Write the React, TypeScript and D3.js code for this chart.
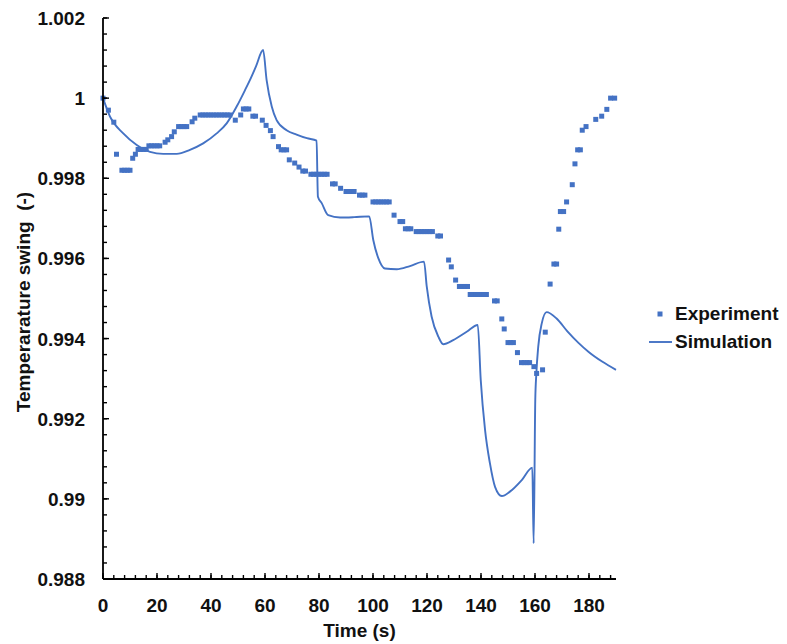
import React from "react";
import * as d3 from "d3";

// Measured temperature swing (time in s, normalised value)
const expTime = [
  0, 2, 4, 5, 7, 8, 9, 10, 11, 12, 13, 14, 15, 16, 17, 18, 19, 20, 21, 23, 24, 25.4, 26.4,
  28, 29, 30, 31, 33, 34, 36, 37, 38, 39, 40, 41, 42, 43, 44, 45, 46, 47, 49, 51, 52, 53, 54,
  55.5, 56.5, 59, 60.4, 62, 63, 65, 66, 67, 68, 69, 71, 72.6, 74, 75, 77, 78, 79, 80, 81, 82, 83,
  85, 86, 88, 90, 91, 92, 93, 95, 96, 97, 100, 101, 102, 103, 104, 105, 106, 107.8, 110, 111,
  112, 113, 114, 116, 117, 118, 119, 120, 121, 122, 124, 125, 128, 129, 130.6, 132, 133, 134,
  135, 136, 137, 138, 139, 140, 141, 142, 145, 146, 147.7, 148.6, 150, 151, 152, 153.5, 155,
  156, 157, 158, 159.6, 160.6, 162.8, 163.8, 165.6, 167, 168, 168.8, 169.4, 170.6, 171.7,
  173.8, 174.8, 175.8, 176.8, 177.5, 178.9, 182.5, 184.7, 186.6, 188, 189.5,
];
const expValue = [
  1.0, 0.9997, 0.9994, 0.9986, 0.9982, 0.9982, 0.9982, 0.9982, 0.9985, 0.9986, 0.99872, 0.99872,
  0.99872, 0.99872, 0.99881, 0.99881, 0.99881, 0.99881, 0.99881, 0.9989, 0.99896, 0.99904,
  0.99916, 0.99929, 0.99929, 0.99929, 0.99929, 0.99941, 0.9995, 0.99958, 0.99958, 0.99958,
  0.99958, 0.99958, 0.99958, 0.99958, 0.99958, 0.99958, 0.99958, 0.99958, 0.99958, 0.99945,
  0.99958, 0.99973, 0.99973, 0.99973, 0.99955, 0.99955, 0.99945, 0.99932, 0.99919, 0.99904,
  0.99879, 0.99871, 0.99871, 0.99871, 0.99846, 0.99838, 0.99828, 0.99818, 0.99818, 0.9981,
  0.9981, 0.9981, 0.9981, 0.9981, 0.9981, 0.9981, 0.99786, 0.99786, 0.99775, 0.99767, 0.99767,
  0.99767, 0.99767, 0.99758, 0.99758, 0.99758, 0.99741, 0.99741, 0.99741, 0.99741, 0.99741,
  0.99741, 0.99741, 0.99708, 0.99692, 0.99692, 0.99674, 0.99674, 0.99674, 0.99667, 0.99667,
  0.99667, 0.99667, 0.99667, 0.99667, 0.99667, 0.99656, 0.99656, 0.99596, 0.99579, 0.99546,
  0.9953, 0.9953, 0.9953, 0.9953, 0.9951, 0.9951, 0.9951, 0.9951, 0.9951, 0.9951, 0.9951,
  0.99494, 0.99494, 0.99449, 0.99424, 0.9939, 0.9939, 0.9939, 0.99365, 0.9934, 0.9934, 0.9934,
  0.9934, 0.9933, 0.99313, 0.99322, 0.99416, 0.99536, 0.99586, 0.99586, 0.99673, 0.99717,
  0.99717, 0.99741, 0.99784, 0.99836, 0.99871, 0.99871, 0.9992, 0.99929, 0.99947, 0.99955,
  0.99972, 1.0, 1.0,
];

// Simulated temperature swing
const simTime = [
  0, 2.6, 7.5, 12.5, 17.4, 22.3, 27.3, 32.2, 37.1, 42.1, 45.8, 49.5, 52.6, 54.4, 56.7, 59.3,
  60.6, 62.5, 64.3, 68, 71.7, 75.5, 79.1, 79.6, 81, 83.4, 87.8, 93, 98.6, 100.1, 102, 104.4,
  108.8, 113.7, 118.9, 119.9, 121.7, 124.2, 126, 129.7, 134.7, 138.8, 139.9, 141.5, 143.3,
  145.2, 147.7, 150.7, 155.1, 159.0, 159.5, 160.1, 160.5, 161.2, 162.5, 164.3, 168, 172,
  176, 180, 185, 190,
];
const simValue = [
  1.0, 0.99954, 0.99912, 0.99883, 0.99866, 0.99861, 0.99861, 0.99871, 0.99887, 0.99912,
  0.99937, 0.99979, 1.0002, 1.00045, 1.0008, 1.0012, 1.00045, 0.99979, 0.99945, 0.9992,
  0.99909, 0.999, 0.99894, 0.99754, 0.99738, 0.99708, 0.99702, 0.99703, 0.99705, 0.99646,
  0.996, 0.99575, 0.99573, 0.99581, 0.99592, 0.9953, 0.99455, 0.99405, 0.99386, 0.99396,
  0.99417, 0.99434, 0.99297, 0.99172, 0.99089, 0.9903, 0.99007, 0.99018, 0.99047, 0.99078,
  0.98889, 0.99247, 0.99313, 0.9938, 0.99438, 0.99466, 0.9945, 0.99418, 0.9939, 0.99366,
  0.99342, 0.99322,
];

const xTickValues = [0, 20, 40, 60, 80, 100, 120, 140, 160, 180];
const xTickLabels = ["0", "20", "40", "60", "80", "100", "120", "140", "160", "180"];
const yTickValues = [0.988, 0.99, 0.992, 0.994, 0.996, 0.998, 1.0, 1.002];
const yTickLabels = ["0.988", "0.99", "0.992", "0.994", "0.996", "0.998", "1", "1.002"];

const seriesNames = ["Experiment", "Simulation"];

const BLUE = "#4472C4";
const FONT = "'Liberation Sans', Arial, sans-serif";

export default function App() {
  const width = 787;
  const height = 644;
  const left = 103;
  const right = 616;
  const top = 18;
  const bottom = 579;

  const x = d3.scaleLinear().domain([0, 190]).range([left, right]);
  const y = d3.scaleLinear().domain([0.988, 1.002]).range([bottom, top]);

  const simPts: [number, number][] = simTime.map((t, i) => [t, simValue[i]]);
  const line = d3
    .line<[number, number]>()
    .x((d) => x(d[0]))
    .y((d) => y(d[1]))
    .curve(d3.curveMonotoneX);

  const xMinor = d3.range(0, 190.01, 4);
  const yMinor = d3.range(0, 36).map((i) => 0.988 + i * 0.0004);

  const ms = 5;

  return (
    <svg
      width={width}
      height={height}
      style={{ position: "absolute", left: 0, top: 0, background: "#fff" }}
      fontFamily={FONT}
    >
      {/* simulation curve */}
      <path d={line(simPts) || ""} fill="none" stroke={BLUE} strokeWidth={1.9} strokeLinejoin="round" />

      {/* experiment markers */}
      {expTime.map((t, i) => (
        <rect
          key={i}
          x={x(t) - ms / 2}
          y={y(expValue[i]) - ms / 2}
          width={ms}
          height={ms}
          fill={BLUE}
        />
      ))}

      {/* axes */}
      <line x1={left} x2={left} y1={top} y2={bottom} stroke="#000" strokeWidth={1.8} />
      <line x1={left} x2={right} y1={bottom} y2={bottom} stroke="#000" strokeWidth={1.8} />

      {xMinor.map((t) => (
        <line key={"xm" + t} x1={x(t)} x2={x(t)} y1={bottom} y2={bottom - 4} stroke="#000" strokeWidth={1.4} />
      ))}
      {xTickValues.map((t) => (
        <line key={"xM" + t} x1={x(t)} x2={x(t)} y1={bottom} y2={bottom - 6} stroke="#000" strokeWidth={1.4} />
      ))}
      {yMinor.map((v, i) => (
        <line key={"ym" + i} x1={left} x2={left + 4} y1={y(v)} y2={y(v)} stroke="#000" strokeWidth={1.4} />
      ))}
      {yTickValues.map((v) => (
        <line key={"yM" + v} x1={left} x2={left + 6} y1={y(v)} y2={y(v)} stroke="#000" strokeWidth={1.4} />
      ))}

      {xTickValues.map((t, i) => (
        <text key={"xl" + t} x={x(t)} y={612} textAnchor="middle" fontSize={19} fontWeight="bold" fill="#111">
          {xTickLabels[i]}
        </text>
      ))}
      {yTickValues.map((v, i) => (
        <text key={"yl" + v} x={85} y={y(v) + 7} textAnchor="end" fontSize={19} fontWeight="bold" fill="#111">
          {yTickLabels[i]}
        </text>
      ))}

      <text x={(left + right) / 2} y={637} textAnchor="middle" fontSize={19} fontWeight="bold" fill="#111">
        Time (s)
      </text>
      <text
        transform={`translate(30, 302) rotate(-90)`}
        textAnchor="middle"
        fontSize={19}
        fontWeight="bold"
        fill="#111"
        style={{ whiteSpace: "pre" }}
      >
        {"Temperarature swing  (-)"}
      </text>

      {/* legend */}
      <rect x={660 - ms / 2} y={314 - ms / 2} width={ms} height={ms} fill={BLUE} />
      <text x={675} y={320} fontSize={19} fontWeight="bold" fill="#111">
        {seriesNames[0]}
      </text>
      <line x1={649} x2={672} y1={342} y2={342} stroke={BLUE} strokeWidth={1.9} />
      <text x={675} y={348} fontSize={19} fontWeight="bold" fill="#111">
        {seriesNames[1]}
      </text>
    </svg>
  );
}
